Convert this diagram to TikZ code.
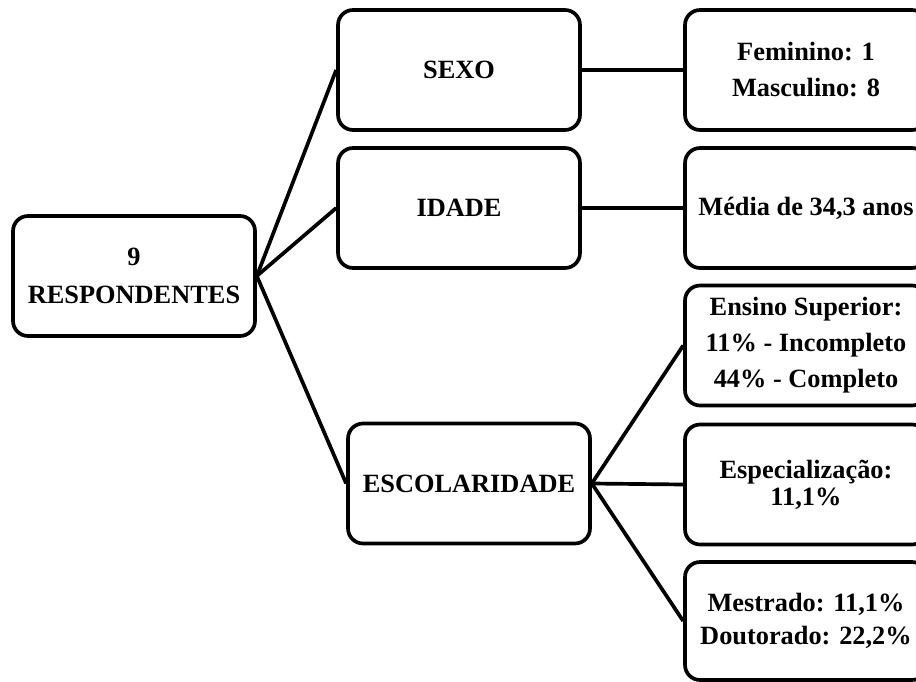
\documentclass[tikz,border=0pt]{standalone}
\usepackage{fontspec}
\setmainfont{Liberation Serif}
\usetikzlibrary{positioning}
\definecolor{Ink}{RGB}{0, 0, 0}

\begin{document}
\begin{tikzpicture}[
        x=0.02cm, y=-0.02cm,
        box/.style={draw=Ink, line width=2.1pt, rounded corners=0.3cm, fill=white, minimum width=4.84cm, minimum height=2.4cm, align=center, font=\fontsize{15}{15.5}\selectfont\bfseries},
        link/.style={draw=Ink, line width=2.1pt}
    ]
        \clip (0,0) rectangle (916,682);
        \useasboundingbox (0,0) rectangle (916,682);

        % root and categories
        \node[box] (resp) at (134,276) {9\\[6pt] RESPONDENTES};
        \node[box] (sexo) at (459,70) {SEXO};
        \node[box] (idade) at (459,208) {IDADE};
        \node[box] (escol) at (469,483.5) {ESCOLARIDADE};

        % results
        \node[box] (sexoval) at (806,70) {Feminino: 1\\[5pt] Masculino: 8};
        \node[box] (idadeval) at (806,208) {M\'edia de 34,3 anos};
        \node[box] (superior) at (806,345.5) {Ensino Superior:\\[5pt] 11\% - Incompleto\\[5pt] 44\% - Completo};
        \node[box] (espec) at (806,484.5) {Especializa\c{c}\~ao:\\ 11,1\%};
        \node[box, minimum height=2.36cm] (mestr) at (806,621) {Mestrado: 11,1\%\\[3pt] Doutorado: 22,2\%};

        \draw[link] (resp.east) -- (sexo.west);
        \draw[link] (resp.east) -- (idade.west);
        \draw[link] (resp.east) -- (escol.west);
        \draw[link] (sexo.east) -- (sexoval.west);
        \draw[link] (idade.east) -- (idadeval.west);
        \draw[link] (escol.east) -- (superior.west);
        \draw[link] (escol.east) -- (espec.west);
        \draw[link] (escol.east) -- (mestr.west);
    \end{tikzpicture}
\end{document}
